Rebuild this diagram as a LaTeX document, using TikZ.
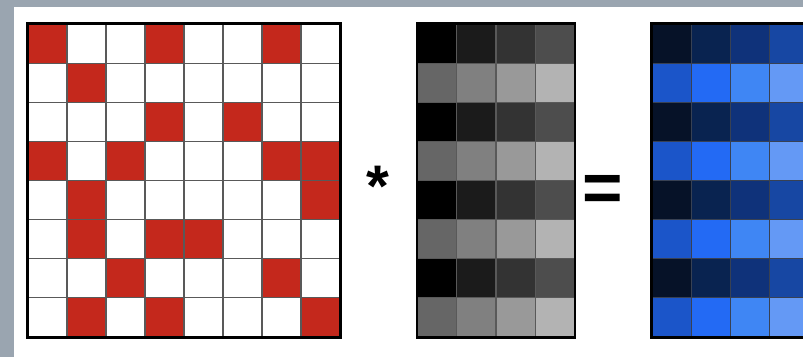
\documentclass[tikz,border=0pt]{standalone}
\usepackage{fontspec}
\setmainfont{Liberation Sans}
\definecolor{framegray}{HTML}{9AA5B0}
\definecolor{cellred}{HTML}{C4281C}
\definecolor{gray0}{HTML}{000000}
\definecolor{gray1}{HTML}{1B1B1B}
\definecolor{gray2}{HTML}{333333}
\definecolor{gray3}{HTML}{4D4D4D}
\definecolor{gray4}{HTML}{666666}
\definecolor{gray5}{HTML}{808080}
\definecolor{gray6}{HTML}{999999}
\definecolor{gray7}{HTML}{B3B3B3}
\definecolor{blue0}{HTML}{061228}
\definecolor{blue1}{HTML}{092350}
\definecolor{blue2}{HTML}{0F327A}
\definecolor{blue3}{HTML}{1747A3}
\definecolor{blue4}{HTML}{1B55C9}
\definecolor{blue5}{HTML}{236AF4}
\definecolor{blue6}{HTML}{3F86F4}
\definecolor{blue7}{HTML}{6499F5}

\begin{document}
\begin{tikzpicture}[
  x=0.75pt, y=-0.75pt,
  cell/.style={draw=black!65, line width=0.8pt, inner sep=0pt,
               minimum width=29.3pt, minimum height=29.3pt},
  cell0/.style={fill=white},
  cell1/.style={fill=cellred},
  frame/.style={draw=black, line width=1.8pt},
  op/.style={font=\bfseries\fontsize{#1}{#1}\selectfont, inner sep=0pt}
]
  \useasboundingbox (0,0) rectangle (803,357);
  \clip (0,0) rectangle (803,357);
  \fill[framegray] (0,0) rectangle (803,357);
  \fill[white] (14,7) rectangle (803,357);

  % sparse matrix
  \foreach \row [count=\r] in {{1,0,0,1,0,0,1,0},{0,1,0,0,0,0,0,0},
      {0,0,0,1,0,1,0,0},{1,0,1,0,0,0,1,1},{0,1,0,0,0,0,0,1},
      {0,1,0,1,1,0,0,0},{0,0,1,0,0,0,1,0},{0,1,0,1,0,0,0,1}}
    \foreach \v [count=\c] in \row
      \node[cell, cell\v] (A-\r-\c) at ({28+39*(\c-0.5)},{24+39.1*(\r-0.5)}) {};
  \draw[frame] (A-1-1.north west) rectangle (A-8-8.south east);

  % dense input
  \foreach \r in {1,...,8}
    \foreach \c in {1,...,4} {
      \pgfmathtruncatemacro\k{4*mod(\r+1,2)+\c-1}
      \node[cell, fill=gray\k] (B-\r-\c) at ({417.5+39.2*(\c-0.5)},{24+39.1*(\r-0.5)}) {};
    }
  \draw[frame] (B-1-1.north west) rectangle (B-8-4.south east);

  % result
  \foreach \r in {1,...,8}
    \foreach \c in {1,...,4} {
      \pgfmathtruncatemacro\k{4*mod(\r+1,2)+\c-1}
      \node[cell, draw=blue0!80, fill=blue\k] (C-\r-\c) at ({652+39.1*(\c-0.5)},{24+39.1*(\r-0.5)}) {};
    }
  \draw[frame] (C-1-1.north west) rectangle (C-8-4.south east);

  \node[op=44] (times) at (378,186) {*};
  \node[op=52] (equals) at (603,193) {=};
\end{tikzpicture}
\end{document}
